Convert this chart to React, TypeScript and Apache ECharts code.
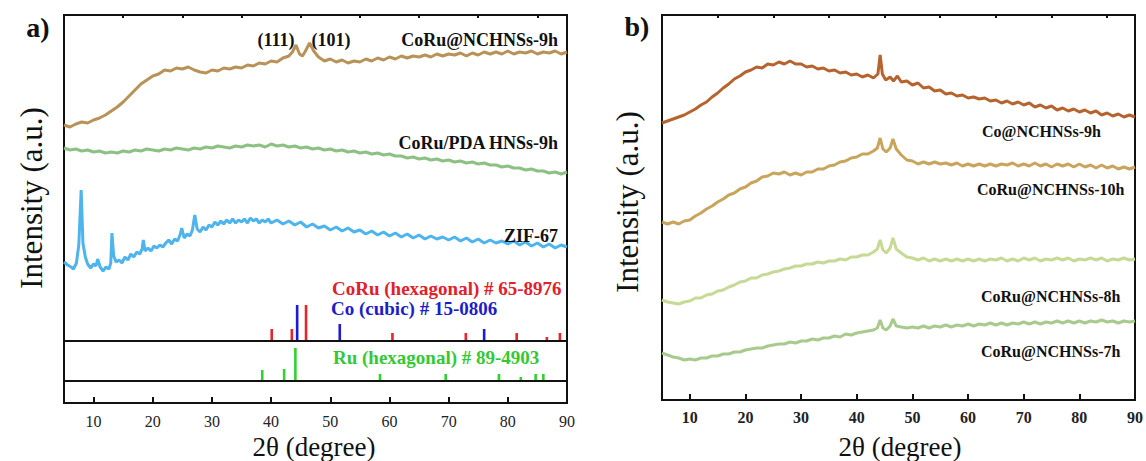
import React, { useEffect, useRef } from "react";
import * as echarts from "echarts";

// ---------- Data (2θ in degrees, intensity in arbitrary offset units) ----------
const majorTicks = [10, 20, 30, 40, 50, 60, 70, 80, 90];
const minorTicks = [15, 25, 35, 45, 55, 65, 75, 85];

// Panel a
const coruNchns9hA: [number, number][] = [
  [5, 278], [6, 276], [7, 279], [8, 281], [9, 280], [10, 283], [11, 285], [12, 288], [13, 292], [14, 296],
  [15, 301], [16, 307], [17, 313], [18, 319], [19, 323], [20, 327], [21, 329], [22, 333], [23, 332], [24, 335],
  [25, 334], [26, 336], [27, 333], [28, 331], [29, 330], [30, 333], [31, 332], [32, 335], [33, 334], [34, 336],
  [35, 335], [36, 338], [37, 337], [38, 340], [39, 339], [40, 342], [41, 341], [42, 345], [43, 347], [43.6, 351],
  [44.2, 358], [44.8, 349], [45.3, 347], [45.8, 352], [46.5, 360], [47.2, 352], [48, 346], [49, 342], [50, 344],
  [51, 341], [52, 343], [53, 340], [54, 342], [55, 341], [56, 344], [57, 342], [58, 345], [59, 343], [60, 346],
  [61, 344], [62, 347], [63, 345], [64, 347], [65, 346], [66, 348], [67, 346], [68, 349], [69, 347], [70, 349],
  [71, 348], [72, 350], [73, 347], [74, 350], [75, 348], [76, 351], [77, 349], [78, 351], [79, 349], [80, 352],
  [81, 349], [82, 351], [83, 350], [84, 352], [85, 349], [86, 351], [87, 350], [88, 352], [89, 349], [90, 351],
];

const coruPda9h: [number, number][] = [
  [5, 255], [6, 253], [7, 254], [8, 252], [9, 253], [10, 251], [11, 252], [12, 250], [13, 251], [14, 250],
  [15, 252], [16, 251], [17, 253], [18, 252], [19, 254], [20, 253], [21, 252], [22, 254], [23, 253], [24, 255],
  [25, 254], [26, 253], [27, 255], [28, 254], [29, 256], [30, 255], [31, 257], [32, 256], [33, 255], [34, 257],
  [35, 256], [36, 258], [37, 257], [38, 258], [39, 256], [40, 259], [41, 257], [42, 258], [43, 256], [44, 257],
  [45, 255], [46, 256], [47, 254], [48, 255], [49, 253], [50, 254], [51, 252], [52, 253], [53, 251], [54, 252],
  [55, 250], [56, 251], [57, 249], [58, 250], [59, 248], [60, 249], [61, 247], [62, 247], [63, 245], [64, 246],
  [65, 244], [66, 245], [67, 243], [68, 244], [69, 242], [70, 243], [71, 241], [72, 242], [73, 240], [74, 241],
  [75, 239], [76, 240], [77, 238], [78, 238], [79, 236], [80, 237], [81, 235], [82, 235], [83, 233], [84, 234],
  [85, 232], [86, 232], [87, 230], [88, 231], [89, 229], [90, 231],
];

const zif67: [number, number][] = [
  [5, 141], [5.6, 138], [6.2, 136], [6.6, 134], [7.1, 140], [7.5, 158], [7.9, 213], [8.2, 160], [8.6, 146], [9, 139],
  [9.5, 135], [10, 139], [10.4, 137], [10.7, 144], [11.1, 136], [11.6, 132], [12.1, 136], [12.6, 134], [12.9, 140], [13.1, 170],
  [13.4, 147], [13.8, 141], [14.3, 143], [14.8, 140], [15.3, 146], [15.8, 143], [16.3, 149], [16.8, 146], [17.3, 151], [17.8, 149],
  [18.2, 154], [18.4, 163], [18.7, 152], [19.2, 155], [19.7, 152], [20.2, 157], [20.7, 155], [21.2, 158], [21.7, 156], [22.2, 160],
  [22.7, 163], [23.2, 159], [23.7, 164], [24.2, 162], [24.6, 168], [24.9, 175], [25.3, 165], [25.8, 169], [26.3, 167], [26.7, 173],
  [27.1, 188], [27.5, 174], [28, 171], [28.5, 176], [29, 173], [29.5, 178], [30, 176], [30.5, 181], [31, 178], [31.5, 182],
  [32, 179], [32.5, 183], [33, 180], [33.5, 184], [34, 180], [34.5, 183], [35, 181], [35.5, 184], [36, 180], [36.5, 185],
  [37, 182], [37.5, 184], [38, 180], [38.5, 183], [39, 181], [39.5, 184], [40, 180], [41, 183], [42, 179], [43, 182],
  [44, 178], [45, 181], [46, 176], [47, 179], [48, 175], [49, 177], [50, 173], [51, 176], [52, 172], [53, 175],
  [54, 171], [55, 173], [56, 169], [57, 172], [58, 168], [59, 171], [60, 167], [61, 170], [62, 166], [63, 169],
  [64, 165], [65, 168], [66, 164], [67, 167], [68, 164], [69, 166], [70, 163], [71, 166], [72, 162], [73, 165],
  [74, 161], [75, 164], [76, 160], [77, 163], [78, 160], [79, 162], [80, 159], [81, 162], [82, 158], [83, 161],
  [84, 157], [85, 160], [86, 156], [87, 159], [88, 155], [89, 158], [90, 156],
];

// Reference patterns: [2θ, baseline, relative height]
const refBaselines = [62, 22];
const coruHexSticks: [number, number, number][] = [
  [40.1, 62, 12], [43.5, 62, 12], [45.9, 62, 36], [60.5, 62, 8], [72.9, 62, 8], [81.5, 62, 8], [86.6, 62, 4], [88.8, 62, 8],
];
const coCubicSticks: [number, number, number][] = [
  [44.4, 62, 36], [51.6, 62, 17], [76.0, 62, 12],
];
const ruHexSticks: [number, number, number][] = [
  [38.5, 22, 11], [42.2, 22, 12], [44.1, 22, 33], [58.4, 22, 7], [69.5, 22, 7], [78.5, 22, 7], [82.2, 22, 4], [84.7, 22, 7], [86.0, 22, 7],
];

// Panel b
const coNchns9h: [number, number][] = [
  [5, 277], [6, 279], [7, 281], [8, 283], [9, 285], [10, 288], [11, 291], [12, 295], [13, 298], [14, 303],
  [15, 307], [16, 312], [17, 316], [18, 321], [19, 324], [20, 328], [21, 330], [22, 333], [23, 332], [24, 336],
  [25, 335], [26, 338], [27, 336], [28, 339], [29, 336], [30, 336], [31, 333], [32, 334], [33, 331], [34, 332],
  [35, 329], [36, 330], [37, 327], [38, 328], [39, 325], [40, 326], [41, 323], [42, 325], [43, 322], [43.8, 326],
  [44.2, 345], [44.6, 326], [45.2, 320], [46, 323], [46.6, 319], [47.3, 324], [48, 318], [49, 319], [50, 315], [51, 317],
  [52, 312], [53, 313], [54, 309], [55, 310], [56, 306], [57, 307], [58, 304], [59, 305], [60, 302], [61, 303],
  [62, 301], [63, 302], [64, 299], [65, 300], [66, 297], [67, 299], [68, 296], [69, 298], [70, 295], [71, 297],
  [72, 293], [73, 295], [74, 292], [75, 294], [76, 290], [77, 292], [78, 289], [79, 291], [80, 288], [81, 290],
  [82, 287], [83, 289], [84, 285], [85, 287], [86, 284], [87, 286], [88, 283], [89, 285], [90, 283],
];

const coruNchns10h: [number, number][] = [
  [5, 178], [6, 176], [7, 178], [8, 176], [9, 179], [10, 180], [11, 184], [12, 187], [13, 191], [14, 194],
  [15, 198], [16, 201], [17, 205], [18, 207], [19, 211], [20, 213], [21, 217], [22, 219], [23, 223], [24, 224],
  [25, 227], [26, 226], [27, 228], [28, 225], [29, 227], [30, 225], [31, 228], [32, 228], [33, 231], [34, 231],
  [35, 234], [36, 235], [37, 238], [38, 239], [39, 242], [40, 243], [41, 246], [42, 246], [43, 249], [43.7, 252],
  [44.2, 262], [44.7, 251], [45.3, 248], [46, 252], [46.5, 261], [47.1, 251], [48, 245], [49, 240], [50, 239], [51, 236],
  [52, 238], [53, 236], [54, 238], [55, 236], [56, 237], [57, 235], [58, 237], [59, 234], [60, 236], [61, 234],
  [62, 236], [63, 234], [64, 236], [65, 234], [66, 236], [67, 235], [68, 237], [69, 234], [70, 236], [71, 234],
  [72, 237], [73, 234], [74, 236], [75, 233], [76, 236], [77, 234], [78, 236], [79, 233], [80, 236], [81, 233],
  [82, 235], [83, 232], [84, 235], [85, 232], [86, 234], [87, 231], [88, 233], [89, 231], [90, 233],
];

const coruNchns8h: [number, number][] = [
  [5, 100], [6, 98], [7, 97], [8, 96], [9, 98], [10, 99], [11, 102], [12, 102], [13, 105], [14, 106],
  [15, 109], [16, 110], [17, 113], [18, 115], [19, 118], [20, 119], [21, 122], [22, 122], [23, 125], [24, 126],
  [25, 128], [26, 129], [27, 131], [28, 132], [29, 134], [30, 134], [31, 136], [32, 136], [33, 138], [34, 137],
  [35, 139], [36, 139], [37, 141], [38, 140], [39, 143], [40, 143], [41, 145], [42, 145], [43, 148], [43.7, 151],
  [44.2, 160], [44.7, 150], [45.3, 147], [46, 152], [46.5, 162], [47.1, 151], [48, 147], [49, 143], [50, 142], [51, 140],
  [52, 142], [53, 139], [54, 141], [55, 139], [56, 141], [57, 139], [58, 141], [59, 139], [60, 141], [61, 139],
  [62, 141], [63, 139], [64, 141], [65, 140], [66, 142], [67, 139], [68, 141], [69, 139], [70, 142], [71, 140],
  [72, 142], [73, 139], [74, 141], [75, 140], [76, 142], [77, 140], [78, 142], [79, 139], [80, 141], [81, 140],
  [82, 142], [83, 140], [84, 142], [85, 139], [86, 141], [87, 140], [88, 142], [89, 140], [90, 141],
];

const coruNchns7h: [number, number][] = [
  [5, 47], [6, 45], [7, 43], [8, 42], [9, 40], [10, 41], [11, 40], [12, 42], [13, 42], [14, 44],
  [15, 44], [16, 46], [17, 46], [18, 48], [19, 48], [20, 50], [21, 51], [22, 52], [23, 52], [24, 54],
  [25, 55], [26, 56], [27, 56], [28, 58], [29, 57], [30, 59], [31, 59], [32, 61], [33, 60], [34, 62],
  [35, 62], [36, 64], [37, 63], [38, 66], [39, 65], [40, 67], [41, 68], [42, 69], [43, 70], [43.7, 72],
  [44.2, 80], [44.7, 72], [45.3, 70], [46, 74], [46.5, 81], [47.1, 74], [48, 73], [49, 72], [50, 73], [51, 72],
  [52, 74], [53, 72], [54, 74], [55, 73], [56, 75], [57, 73], [58, 75], [59, 74], [60, 76], [61, 74],
  [62, 76], [63, 75], [64, 77], [65, 75], [66, 77], [67, 75], [68, 77], [69, 76], [70, 78], [71, 76],
  [72, 78], [73, 76], [74, 78], [75, 77], [76, 79], [77, 77], [78, 79], [79, 77], [80, 79], [81, 77],
  [82, 79], [83, 78], [84, 80], [85, 78], [86, 79], [87, 77], [88, 79], [89, 78], [90, 79],
];

const SERIF = "Liberation Serif, Times New Roman, serif";

function xAxisDef(gridIndex: number, ticks: number[], len: number, labels: boolean, bold: boolean) {
  return {
    type: "value",
    gridIndex,
    min: 5,
    max: 90,
    axisLine: { show: false },
    splitLine: { show: false },
    axisTick: {
      show: true,
      inside: true,
      length: len,
      customValues: ticks,
      lineStyle: { color: "#111", width: 2 },
    },
    axisLabel: {
      show: labels,
      customValues: ticks,
      margin: bold ? 9 : 10,
      color: "#222",
      fontFamily: SERIF,
      fontSize: 16,
      fontWeight: bold ? "bold" : "normal",
    },
  };
}

function lineSeries(data: [number, number][], color: string, xAxisIndex: number, yAxisIndex: number, extra: any = {}) {
  return {
    type: "line",
    data,
    xAxisIndex,
    yAxisIndex,
    showSymbol: false,
    symbol: "none",
    lineStyle: { color, width: 3 },
    z: 3,
    ...extra,
  };
}

function stickSeries(data: [number, number, number][], color: string) {
  return {
    type: "custom",
    coordinateSystem: "cartesian2d",
    xAxisIndex: 0,
    yAxisIndex: 0,
    data,
    renderItem: (_params: any, api: any) => {
      const x = api.value(0);
      const b = api.value(1);
      const h = api.value(2);
      const p0 = api.coord([x, b]);
      const p1 = api.coord([x, b + h]);
      return {
        type: "line",
        shape: { x1: p0[0], y1: p0[1], x2: p1[0], y2: p1[1] },
        style: { stroke: color, lineWidth: 2.6 },
      };
    },
    z: 4,
  };
}

function txt(text: string, x: number, y: number, size: number, opts: any = {}) {
  return {
    type: "text",
    x,
    y,
    rotation: opts.rotation || 0,
    z: 10,
    style: {
      text,
      fill: opts.color || "#111",
      fontFamily: SERIF,
      fontSize: size,
      fontWeight: opts.bold ? "bold" : "normal",
      textAlign: opts.align || "center",
      textVerticalAlign: "middle",
    },
  };
}

export default function App() {
  const ref = useRef<HTMLDivElement>(null);

  useEffect(() => {
    if (!ref.current) return;
    const chart = echarts.init(ref.current, undefined, { renderer: "svg" });
    const option: any = {
      animation: false,
      backgroundColor: "#ffffff",
      textStyle: { fontFamily: SERIF },
      grid: [
        { left: 64, top: 15, width: 503, height: 388, show: true, borderColor: "#111", borderWidth: 2, backgroundColor: "transparent" },
        { left: 662, top: 15, width: 475, height: 385, show: true, borderColor: "#111", borderWidth: 2, backgroundColor: "transparent" },
      ],
      xAxis: [
        xAxisDef(0, majorTicks, 6, true, false),
        xAxisDef(0, minorTicks, 3, false, false),
        xAxisDef(1, majorTicks, 6, true, true),
        xAxisDef(1, minorTicks, 3, false, true),
      ],
      yAxis: [
        { type: "value", gridIndex: 0, min: 0, max: 388, show: false, splitLine: { show: false } },
        { type: "value", gridIndex: 1, min: 0, max: 385, show: false, splitLine: { show: false } },
      ],
      series: [
        lineSeries(coruNchns9hA, "#b89257", 0, 0),
        lineSeries(coruPda9h, "#8dc083", 0, 0),
        lineSeries(zif67, "#4db4ee", 0, 0, {
          markLine: {
            silent: true,
            symbol: "none",
            label: { show: false },
            lineStyle: { color: "#111", width: 2, type: "solid" },
            data: refBaselines.map((v) => ({ yAxis: v })),
          },
        }),
        stickSeries(coruHexSticks, "#e8232a"),
        stickSeries(coCubicSticks, "#1b1bd8"),
        stickSeries(ruHexSticks, "#2fd22f"),
        lineSeries(coNchns9h, "#b6642e", 2, 1),
        lineSeries(coruNchns10h, "#c9a45c", 2, 1),
        lineSeries(coruNchns8h, "#c6d995", 2, 1),
        lineSeries(coruNchns7h, "#a8cb8d", 2, 1),
      ],
      graphic: [
        txt("a)", 38, 27, 28, { bold: true }),
        txt("b)", 637, 26, 28, { bold: true }),
        txt("Intensity (a.u.)", 31, 198, 31, { rotation: Math.PI / 2 }),
        txt("Intensity (a.u.)", 627, 202, 31, { rotation: Math.PI / 2 }),
        txt("2θ (degree)", 314, 447, 27),
        txt("2θ (degree)", 900, 447, 27),
        txt("(111)", 276, 40, 18, { bold: true }),
        txt("(101)", 331, 40, 18, { bold: true }),
        txt("CoRu@NCHNSs-9h", 558, 40, 18, { bold: true, align: "right" }),
        txt("CoRu/PDA HNSs-9h", 558, 143, 18, { bold: true, align: "right" }),
        txt("ZIF-67", 558, 236, 18, { bold: true, align: "right" }),
        txt("CoRu (hexagonal) # 65-8976", 332, 288, 19, { bold: true, align: "left", color: "#e3202a" }),
        txt("Co (cubic) # 15-0806", 331, 308, 19, { bold: true, align: "left", color: "#1d1dc8" }),
        txt("Ru (hexagonal) # 89-4903", 333, 357, 19, { bold: true, align: "left", color: "#34c934" }),
        txt("Co@NCHNSs-9h", 982, 131, 16, { bold: true, align: "left" }),
        txt("CoRu@NCHNSs-10h", 977, 189, 16, { bold: true, align: "left" }),
        txt("CoRu@NCHNSs-8h", 981, 296, 16, { bold: true, align: "left" }),
        txt("CoRu@NCHNSs-7h", 981, 351, 16, { bold: true, align: "left" }),
      ],
    };
    chart.setOption(option);
    return () => chart.dispose();
  }, []);

  return (
    <div
      ref={ref}
      style={{ position: "fixed", left: 0, top: 0, width: 1146, height: 461, background: "#fff" }}
    />
  );
}
